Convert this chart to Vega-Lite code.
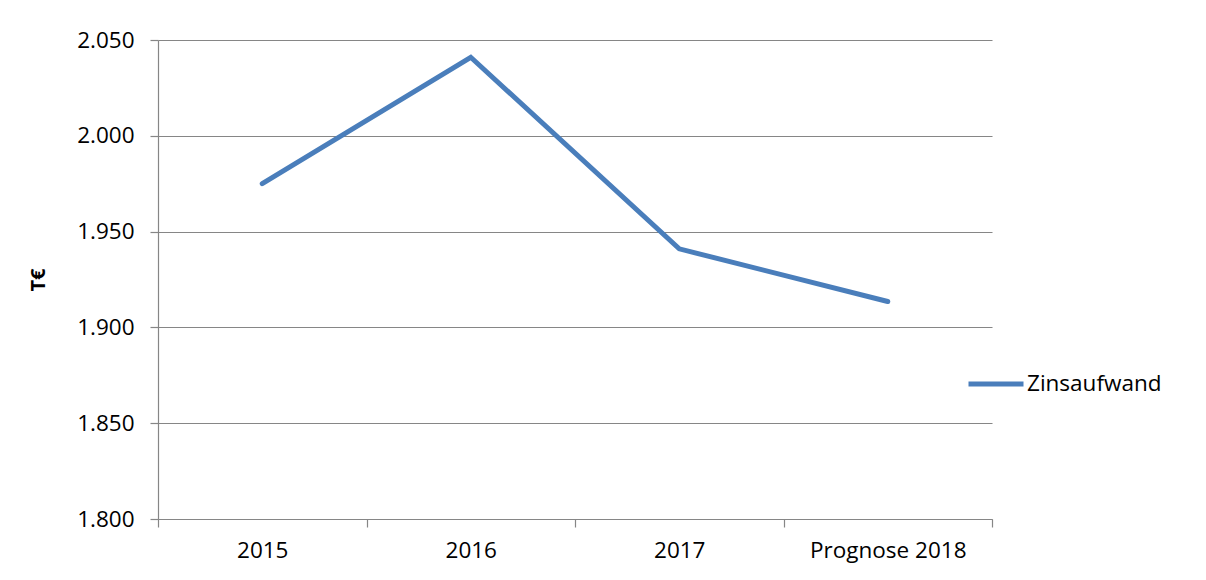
{
  "$schema": "https://vega.github.io/schema/vega-lite/v6.json",
  "width": 834,
  "height": 479,
  "autosize": {"type": "none"},
  "padding": {"left": 158, "top": 40, "right": 214, "bottom": 61},
  "background": "white",
  "config": {
    "font": "Open Sans",
    "view": {"stroke": null},
    "axis": {
      "labelFont": "Open Sans",
      "labelFontSize": 22.5,
      "labelColor": "#000000",
      "domainColor": "#868686",
      "tickColor": "#868686",
      "gridColor": "#868686",
      "domainWidth": 1.2,
      "tickWidth": 1.2,
      "gridWidth": 1.2,
      "tickSize": 8
    }
  },
  "data": {
    "values": [
      {"Jahr": "2015", "Wert": 1975, "Reihe": "Zinsaufwand"},
      {"Jahr": "2016", "Wert": 2041, "Reihe": "Zinsaufwand"},
      {"Jahr": "2017", "Wert": 1941, "Reihe": "Zinsaufwand"},
      {"Jahr": "Prognose 2018", "Wert": 1913.5, "Reihe": "Zinsaufwand"}
    ]
  },
  "mark": {"type": "line", "strokeWidth": 5, "strokeCap": "round", "strokeJoin": "miter"},
  "encoding": {
    "x": {
      "field": "Jahr",
      "type": "ordinal",
      "sort": null,
      "scale": {"type": "band", "paddingInner": 0, "paddingOuter": 0},
      "axis": {
        "title": null,
        "labelAngle": 0,
        "tickBand": "extent",
        "labelPadding": 12,
        "grid": false
      }
    },
    "y": {
      "field": "Wert",
      "type": "quantitative",
      "scale": {"domain": [1800, 2050], "nice": false, "zero": false},
      "axis": {
        "title": "T€",
        "titleFont": "Open Sans",
        "titleFontSize": 20,
        "titleFontWeight": "bold",
        "titleColor": "#000000",
        "titlePadding": 28,
        "values": [1800, 1850, 1900, 1950, 2000, 2050],
        "labelExpr": "replace(format(datum.value, ','), ',', '.')",
        "labelPadding": 16,
        "grid": true
      }
    },
    "color": {
      "field": "Reihe",
      "type": "nominal",
      "scale": {"range": ["#4A7EBB"]},
      "legend": {
        "title": null,
        "orient": "none",
        "legendX": 808,
        "legendY": 314,
        "symbolType": "stroke",
        "symbolSize": 3025,
        "symbolStrokeWidth": 5,
        "labelFont": "Open Sans",
        "labelFontSize": 22.5,
        "labelColor": "#000000",
        "labelOffset": 1
      }
    }
  }
}
